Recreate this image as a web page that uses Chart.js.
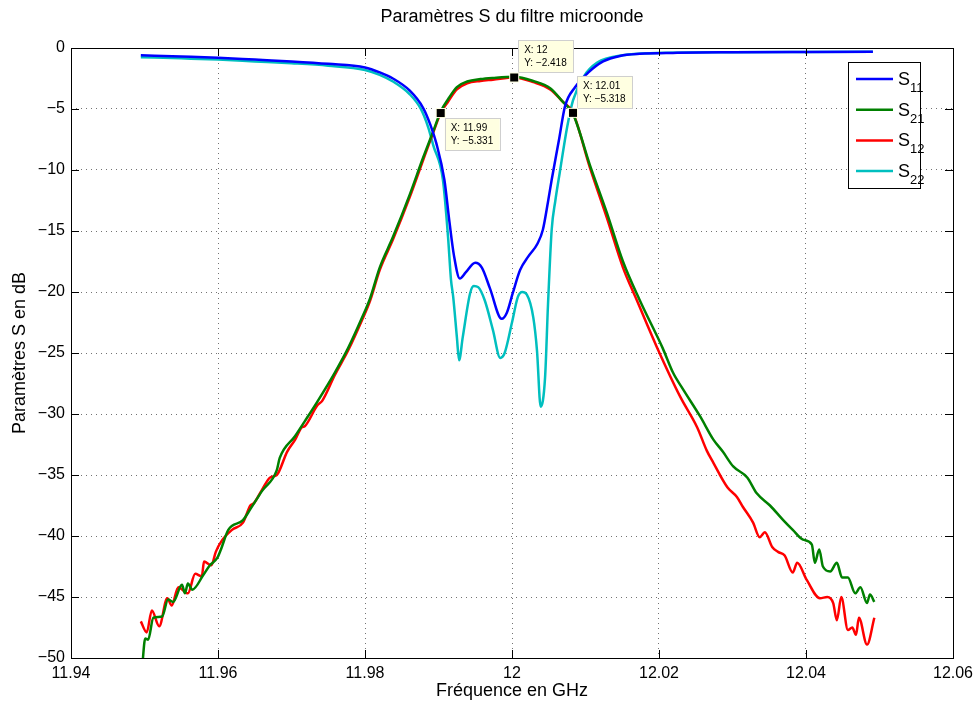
<!DOCTYPE html>
<html>
<head>
<meta charset="utf-8">
<title>Paramètres S du filtre microonde</title>
<script src="https://cdn.jsdelivr.net/npm/chart.js@4.4.1/dist/chart.umd.min.js"></script>
<style>
  html, body { margin: 0; padding: 0; background: #fff; }
  #wrap { width: 976px; height: 709px; }
</style>
</head>
<body>
<div id="wrap"><canvas id="sChart" width="976" height="709"></canvas></div>
<script>
// axis ticks
const xTicks = [11.94, 11.96, 11.98, 12.00, 12.02, 12.04, 12.06];
const yTicks = [-50, -45, -40, -35, -30, -25, -20, -15, -10, -5, 0];

// S11 (reflexion port 1)
const s11Freq = [11.9495, 11.9550, 11.9600, 11.9650, 11.9700, 11.9750, 11.9800, 11.9820, 11.9838, 11.9861,
  11.9879, 11.9889, 11.9897, 11.9908, 11.9915, 11.9921, 11.9929, 11.9937, 11.9950, 11.9959,
  11.9970, 11.9986, 11.9993, 12.0001, 12.0011, 12.0022, 12.0035, 12.0042, 12.0049, 12.0054,
  12.0064, 12.0072, 12.0086, 12.0104, 12.0124, 12.0147, 12.0174, 12.0219, 12.0300, 12.0400, 12.0491];
const s11Db = [-0.6, -0.7, -0.8, -0.95, -1.1, -1.3, -1.6, -2.0, -2.5, -3.5,
  -4.9, -6.3, -7.8, -10.8, -14.3, -17.0, -18.9, -18.4, -17.6, -18.0,
  -19.7, -22.2, -21.7, -20.1, -18.2, -17.1, -16.0, -14.9, -12.6, -10.8,
  -7.5, -4.8, -3.2, -2.0, -1.1, -0.65, -0.48, -0.4, -0.35, -0.32, -0.3];

// S21 (transmission)
const s21Freq = [11.9497, 11.9501, 11.9505, 11.9512, 11.9524, 11.9532, 11.9539, 11.9551, 11.9555, 11.9559,
  11.9565, 11.9580, 11.9589, 11.9599, 11.9604, 11.9614, 11.9634, 11.9644, 11.9660, 11.9680,
  11.9684, 11.9705, 11.9718, 11.9735, 11.9759, 11.9777, 11.9796, 11.9807, 11.9820, 11.9838,
  11.9861, 11.9879, 11.9893, 11.9903, 11.9913, 11.9925, 11.9939, 11.9957, 11.9974, 12.0003,
  12.0029, 12.0052, 12.0069, 12.0083, 12.0106, 12.0129, 12.0151, 12.0174, 12.0205, 12.0219,
  12.0233, 12.0256, 12.0274, 12.0287, 12.0301, 12.0320, 12.0333, 12.0351, 12.0369, 12.0382,
  12.0396, 12.0408, 12.0412, 12.0418, 12.0423, 12.0433, 12.0442, 12.0449, 12.0457, 12.0467,
  12.0474, 12.0483, 12.0487, 12.0493];
const s21Db = [-50.6, -48.4, -48.5, -46.7, -46.6, -45.2, -45.4, -44.0, -44.7, -43.9,
  -44.4, -43.2, -42.4, -41.8, -41.1, -39.5, -38.7, -37.8, -36.3, -34.6,
  -33.6, -31.8, -30.6, -29.0, -26.6, -24.6, -22.1, -20.5, -18.0, -15.5,
  -12.0, -9.0, -6.8, -5.2, -4.2, -3.2, -2.75, -2.55, -2.45, -2.35,
  -2.7, -3.3, -4.4, -5.4, -9.6, -13.5, -17.5, -20.7, -24.6, -26.6,
  -28.0, -30.2, -32.1, -33.1, -34.3, -35.2, -36.5, -37.5, -38.7, -39.5,
  -40.3, -40.7, -42.2, -41.1, -42.5, -42.9, -42.2, -43.4, -43.4, -44.7,
  -44.2, -45.5, -44.8, -45.4];

// S12 (transmission retour)
const s12Freq = [11.9495, 11.9503, 11.9510, 11.9520, 11.9531, 11.9537, 11.9546, 11.9559, 11.9569, 11.9578,
  11.9581, 11.9591, 11.9597, 11.9605, 11.9619, 11.9634, 11.9644, 11.9649, 11.9660, 11.9671,
  11.9680, 11.9694, 11.9705, 11.9714, 11.9718, 11.9735, 11.9742, 11.9759, 11.9777, 11.9796,
  11.9807, 11.9820, 11.9838, 11.9861, 11.9879, 11.9893, 11.9903, 11.9913, 11.9925, 11.9939,
  11.9957, 11.9974, 12.0003, 12.0029, 12.0052, 12.0069, 12.0083, 12.0106, 12.0129, 12.0151,
  12.0170, 12.0197, 12.0229, 12.0252, 12.0265, 12.0274, 12.0293, 12.0306, 12.0314, 12.0328,
  12.0337, 12.0344, 12.0354, 12.0362, 12.0371, 12.0382, 12.0388, 12.0401, 12.0419, 12.0429,
  12.0437, 12.0442, 12.0448, 12.0457, 12.0463, 12.0468, 12.0472, 12.0483, 12.0493];
const s12Db = [-47.0, -47.9, -46.1, -47.4, -45.1, -45.7, -44.2, -44.7, -43.1, -43.3,
  -42.1, -42.4, -41.3, -40.4, -39.5, -38.9, -37.5, -37.3, -36.2, -35.2,
  -35.0, -33.1, -32.1, -31.1, -31.0, -29.3, -28.9, -26.8, -24.8, -22.3,
  -20.7, -18.2, -15.7, -12.2, -9.2, -6.9, -5.33, -4.4, -3.4, -2.9,
  -2.7, -2.6, -2.42, -2.8, -3.4, -4.4, -5.32, -9.8, -13.9, -18.0,
  -20.7, -24.5, -28.6, -31.1, -33.0, -34.0, -36.0, -36.8, -37.6, -38.9,
  -40.1, -39.7, -40.9, -41.3, -41.6, -43.0, -42.2, -43.6, -45.1, -45.0,
  -45.5, -46.9, -45.0, -47.7, -47.5, -48.1, -46.7, -48.9, -46.7];

// S22 (reflexion port 2)
const s22Freq = [11.9495, 11.9550, 11.9600, 11.9650, 11.9700, 11.9750, 11.9800, 11.9820, 11.9838, 11.9861,
  11.9876, 11.9886, 11.9893, 11.9906, 11.9913, 11.9917, 11.9920, 11.9925, 11.9928, 11.9933,
  11.9943, 11.9948, 11.9954, 11.9963, 11.9974, 11.9984, 11.9990, 12.0000, 12.0008, 12.0014,
  12.0020, 12.0029, 12.0034, 12.0039, 12.0045, 12.0049, 12.0054, 12.0059, 12.0065, 12.0075,
  12.0083, 12.0097, 12.0116, 12.0151, 12.0197, 12.0300, 12.0400, 12.0491];
const s22Db = [-0.75, -0.85, -0.95, -1.1, -1.25, -1.45, -1.8, -2.2, -2.75, -3.8,
  -5.0, -6.5, -8.0, -10.8, -15.5, -19.0, -20.4, -23.7, -25.6, -23.7,
  -20.1, -19.5, -19.6, -20.7, -23.1, -25.4, -25.0, -22.5, -20.4, -20.0,
  -20.2, -22.1, -24.8, -29.4, -27.0, -21.0, -14.9, -12.5, -10.2, -6.5,
  -4.3, -2.4, -1.2, -0.6, -0.42, -0.35, -0.32, -0.3];

// data tips
const tipFreq = [11.9903, 12.0003, 12.0083];
const tipDb = [-5.331, -2.418, -5.318];
const tipLines = [["X: 11.99", "Y: \u22125.331"], ["X: 12", "Y: \u22122.418"], ["X: 12.01", "Y: \u22125.318"]];

const FONT = '"Liberation Sans", Arial, Helvetica, sans-serif';

function pairs(xs, ys) {
  return xs.map((x, i) => ({ x: x, y: ys[i] }));
}

function series(label, xs, ys, color) {
  return {
    label: label,
    data: pairs(xs, ys),
    borderColor: color,
    backgroundColor: color,
    borderWidth: 2.5,
    pointRadius: 0,
    fill: false,
    cubicInterpolationMode: "monotone"
  };
}

// frame, inward ticks, titles, data tips and legend in the Matlab look
const matlabLook = {
  id: "matlabLook",
  afterDatasetsDraw(chart) {
    const ctx = chart.ctx;
    const a = chart.chartArea;
    const xs = chart.scales.x, ys = chart.scales.y;
    ctx.save();

    // box and ticks
    ctx.strokeStyle = "#000";
    ctx.lineWidth = 1;
    ctx.setLineDash([]);
    ctx.strokeRect(Math.round(a.left) + 0.5, Math.round(a.top) + 0.5,
      Math.round(a.right - a.left), Math.round(a.bottom - a.top));
    const tl = 8;
    ctx.beginPath();
    xTicks.forEach(v => {
      const px = Math.round(xs.getPixelForValue(v)) + 0.5;
      ctx.moveTo(px, a.bottom); ctx.lineTo(px, a.bottom - tl);
      ctx.moveTo(px, a.top); ctx.lineTo(px, a.top + tl);
    });
    yTicks.forEach(v => {
      const py = Math.round(ys.getPixelForValue(v)) + 0.5;
      ctx.moveTo(a.left, py); ctx.lineTo(a.left + tl, py);
      ctx.moveTo(a.right, py); ctx.lineTo(a.right - tl, py);
    });
    ctx.stroke();

    // data tips
    tipFreq.forEach((f, i) => {
      const mx = xs.getPixelForValue(f), my = ys.getPixelForValue(tipDb[i]);
      const w = 55, h = 32;
      let bx = mx + 4, by;
      if (i === 0) by = my + 5; else by = my - 5 - h;
      ctx.fillStyle = "#ffffe1";
      ctx.strokeStyle = "#cfcfcf";
      ctx.fillRect(bx, by, w, h);
      ctx.strokeRect(Math.round(bx) + 0.5, Math.round(by) + 0.5, w, h);
      ctx.fillStyle = "#000";
      ctx.font = "10px " + FONT;
      ctx.textAlign = "left";
      ctx.textBaseline = "alphabetic";
      ctx.fillText(tipLines[i][0], bx + 6, by + 13);
      ctx.fillText(tipLines[i][1], bx + 6, by + 26);
      ctx.fillStyle = "#ffffe1";
      ctx.fillRect(mx - 5, my - 5, 10, 10);
      ctx.fillStyle = "#000";
      ctx.fillRect(mx - 4, my - 4, 8, 8);
    });

    // legend
    const lx = 848, ly = 62, lw = 72, lh = 126;
    ctx.fillStyle = "#fff";
    ctx.fillRect(lx, ly, lw, lh);
    ctx.strokeStyle = "#000";
    ctx.strokeRect(lx + 0.5, ly + 0.5, lw, lh);
    chart.data.datasets.forEach((ds, i) => {
      const yy = ly + 17 + i * 30.7;
      ctx.strokeStyle = ds.borderColor;
      ctx.lineWidth = 2.5;
      ctx.beginPath();
      ctx.moveTo(lx + 8, yy); ctx.lineTo(lx + 45, yy);
      ctx.stroke();
      ctx.fillStyle = "#000";
      ctx.textAlign = "left";
      ctx.textBaseline = "alphabetic";
      ctx.font = "18px " + FONT;
      ctx.fillText(ds.label.charAt(0), lx + 50, yy + 6);
      const sw = ctx.measureText(ds.label.charAt(0)).width;
      ctx.font = "13px " + FONT;
      ctx.fillText(ds.label.slice(1), lx + 50 + sw, yy + 13);
    });

    // titles
    ctx.fillStyle = "#000";
    ctx.textAlign = "center";
    ctx.textBaseline = "middle";
    ctx.font = "18px " + FONT;
    const cx = (a.left + a.right) / 2;
    ctx.fillText("Paramètres S du filtre microonde", cx, 17);
    ctx.fillText("Fréquence en GHz", cx, 691);
    ctx.translate(20, (a.top + a.bottom) / 2);
    ctx.rotate(-Math.PI / 2);
    ctx.fillText("Paramètres S en dB", 0, 0);
    ctx.restore();
  }
};

new Chart(document.getElementById("sChart"), {
  type: "line",
  data: {
    datasets: [
      series("S11", s11Freq, s11Db, "#0000ff"),
      series("S21", s21Freq, s21Db, "#008000"),
      series("S12", s12Freq, s12Db, "#ff0000"),
      series("S22", s22Freq, s22Db, "#00bfbf")
    ]
  },
  options: {
    responsive: false,
    animation: false,
    devicePixelRatio: 1,
    layout: { padding: { top: 48, right: 23, left: 0, bottom: 0 } },
    plugins: {
      legend: { display: false },
      title: { display: false },
      tooltip: { enabled: false }
    },
    scales: {
      x: {
        type: "linear",
        min: 11.94,
        max: 12.06,
        afterBuildTicks: s => { s.ticks = xTicks.map(v => ({ value: v })); },
        afterFit: s => { s.height = 51; s.paddingLeft = 0; s.paddingRight = 0; },
        grid: { color: "rgba(0,0,0,0.55)", lineWidth: 1, drawTicks: false },
        border: { display: false, dash: [1, 4] },
        ticks: {
          padding: 6,
          color: "#000",
          font: { family: FONT, size: 16 },
          maxRotation: 0,
          callback: v => parseFloat(v.toFixed(2)).toString()
        }
      },
      y: {
        type: "linear",
        min: -50,
        max: 0,
        afterBuildTicks: s => { s.ticks = yTicks.map(v => ({ value: v })); },
        afterFit: s => { s.width = 71; s.paddingTop = 0; s.paddingBottom = 0; },
        grid: { color: "rgba(0,0,0,0.55)", lineWidth: 1, drawTicks: false },
        border: { display: false, dash: [1, 4] },
        ticks: {
          padding: 6,
          color: "#000",
          font: { family: FONT, size: 16 },
          callback: v => (v < 0 ? "\u2212" + Math.abs(v) : String(v))
        }
      }
    }
  },
  plugins: [matlabLook]
});
</script>
</body>
</html>
